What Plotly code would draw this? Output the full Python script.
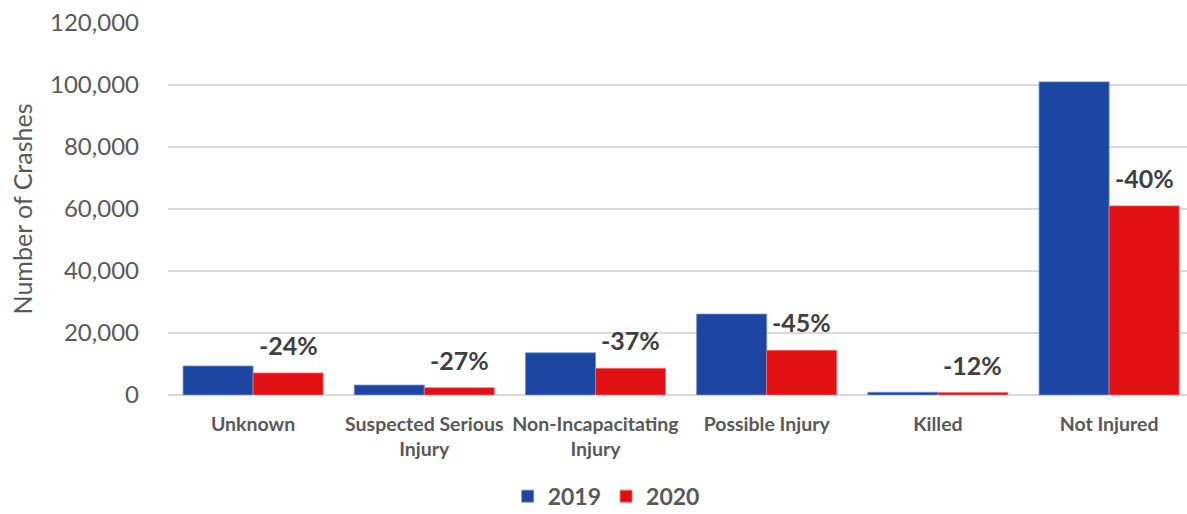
import plotly.graph_objects as go

categories = ["Unknown", "Suspected Serious<br>Injury", "Non-Incapacitating<br>Injury",
              "Possible Injury", "Killed", "Not Injured"]
values_2019 = [9350, 3200, 13600, 26100, 880, 101000]
values_2020 = [7100, 2350, 8600, 14400, 775, 61000]
pct_labels = ["-24%", "-27%", "-37%", "-45%", "-12%", "-40%"]
y_ticks = [0, 20000, 40000, 60000, 80000, 100000, 120000]

FONT = "Lato"
GRAY = "#595959"
xpos = list(range(len(categories)))

fig = go.Figure()
fig.add_trace(go.Bar(name="2019", x=xpos, y=values_2019,
                     marker=dict(color="#1D46A2", line=dict(color="#6E8CCB", width=0.8))))
fig.add_trace(go.Bar(name="2020", x=xpos, y=values_2020,
                     marker=dict(color="#E31013", line=dict(color="#F07070", width=0.8))))

for c, v, t in zip(xpos, values_2020, pct_labels):
    fig.add_annotation(x=c, y=v, text=t, showarrow=False, xshift=35, yshift=28,
                       yanchor="middle",
                       font=dict(family=FONT, size=25, color="#404040", weight="bold"))

fig.update_layout(
    width=1187, height=514,
    margin=dict(l=168, r=0, t=23, b=119, autoexpand=False),
    paper_bgcolor="white", plot_bgcolor="white",
    barmode="group", bargap=0.182, bargroupgap=0,
    font=dict(family=FONT, color=GRAY),
    legend=dict(orientation="h", xref="paper", yref="paper",
                x=0.43, xanchor="center", y=-0.272, yanchor="middle",
                font=dict(family=FONT, size=23, color=GRAY, weight="bold"),
                traceorder="normal"),
    showlegend=True,
)
fig.update_xaxes(range=[-0.497, 5.455], tickvals=xpos, ticktext=categories,
                 showgrid=False, showline=False, ticks="", zeroline=False,
                 tickfont=dict(family=FONT, size=19.5, color=GRAY, weight="bold"),
                 ticklabelstandoff=15, automargin=False)
fig.update_yaxes(range=[0, 120000], tickvals=y_ticks, tickformat=",",
                 showgrid=True, gridcolor="#D9D9D9", gridwidth=1.5,
                 zeroline=True, zerolinecolor="#D9D9D9", zerolinewidth=1.5,
                 showline=False, ticks="", automargin=False,
                 tickfont=dict(family=FONT, size=24, color=GRAY),
                 ticklabelstandoff=28,
                 title=dict(text="Number of Crashes", font=dict(family=FONT, size=25, color=GRAY),
                            standoff=10))

fig.write_html("out.html")
